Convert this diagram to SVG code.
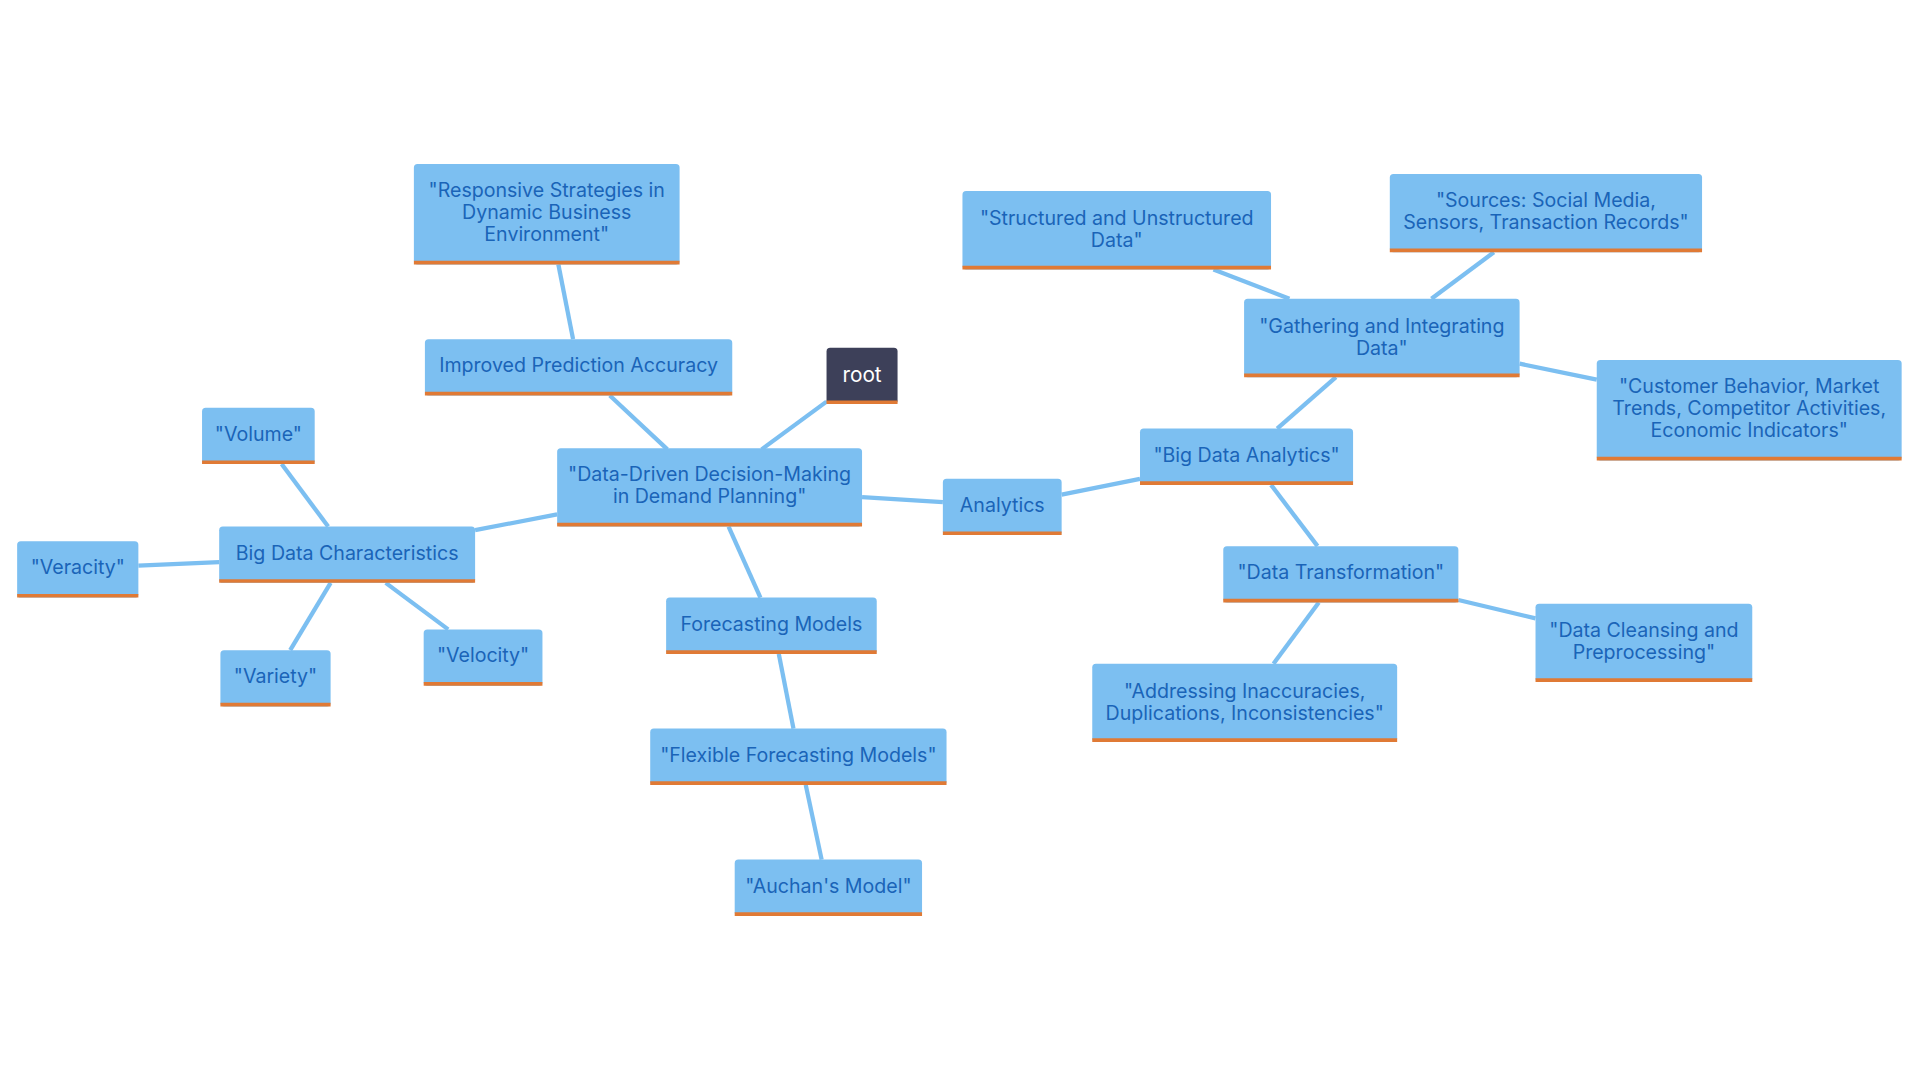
<svg xmlns="http://www.w3.org/2000/svg" width="1920" height="1080" viewBox="0 0 1920 1080">
<style>
.n{fill:#7cbff1}
.b{stroke:#e07a35;stroke-width:3}
.t{font-family:Inter,"Open Sans",sans-serif;font-size:16px;fill:#1a64b8;text-anchor:middle}
.c line{stroke:#7cbff1;stroke-width:3.5}
</style>
<rect width="1920" height="1080" fill="#fff"/>
<g transform="scale(1.2245)">
<g class="c">
<line x1="622" y1="367" x2="675" y2="328"/>
<line x1="545" y1="367" x2="498" y2="323"/>
<line x1="468" y1="277" x2="456" y2="216"/>
<line x1="455" y1="420" x2="388" y2="433"/>
<line x1="268" y1="430" x2="230" y2="379"/>
<line x1="179" y1="459" x2="113" y2="462"/>
<line x1="270" y1="476" x2="237" y2="531"/>
<line x1="315" y1="476" x2="366" y2="514"/>
<line x1="595" y1="430" x2="621" y2="488"/>
<line x1="636" y1="534" x2="648" y2="595"/>
<line x1="658" y1="641" x2="671" y2="702"/>
<line x1="704" y1="406" x2="770" y2="410"/>
<line x1="867" y1="404" x2="931" y2="391"/>
<line x1="1043" y1="350" x2="1091" y2="308"/>
<line x1="1053" y1="244" x2="991" y2="220"/>
<line x1="1169" y1="244" x2="1220" y2="206"/>
<line x1="1241" y1="297" x2="1304" y2="310"/>
<line x1="1038" y1="396" x2="1076" y2="446"/>
<line x1="1077" y1="492" x2="1040" y2="542"/>
<line x1="1191" y1="490" x2="1254" y2="505"/>
</g>
<g id="root"><rect x="675" y="284" width="58" height="46" rx="3" fill="#3d4059"/><line class="b" x1="675" y1="328.5" x2="733" y2="328.5"/><text class="t" x="704" y="312" style="fill:#fff;font-size:17px">root</text></g>
<g id="center"><rect class="n" x="455" y="366" width="249" height="64" rx="3"/><line class="b" x1="455" y1="428.5" x2="704" y2="428.5"/><text class="t" x="579.5" y="393">"Data-Driven Decision-Making</text><text class="t" x="579.5" y="411">in Demand Planning"</text></g>
<g id="ipa"><rect class="n" x="347" y="277" width="251" height="46" rx="3"/><line class="b" x1="347" y1="321.5" x2="598" y2="321.5"/><text class="t" x="472.5" y="304">Improved Prediction Accuracy</text></g>
<g id="resp"><rect class="n" x="338" y="134" width="217" height="82" rx="3"/><line class="b" x1="338" y1="214.5" x2="555" y2="214.5"/><text class="t" x="446.5" y="161">"Responsive Strategies in</text><text class="t" x="446.5" y="179">Dynamic Business</text><text class="t" x="446.5" y="197">Environment"</text></g>
<g id="bdc"><rect class="n" x="179" y="430" width="209" height="46" rx="3"/><line class="b" x1="179" y1="474.5" x2="388" y2="474.5"/><text class="t" x="283.5" y="457">Big Data Characteristics</text></g>
<g id="volume"><rect class="n" x="165" y="333" width="92" height="46" rx="3"/><line class="b" x1="165" y1="377.5" x2="257" y2="377.5"/><text class="t" x="211" y="360">"Volume"</text></g>
<g id="veracity"><rect class="n" x="14" y="442" width="99" height="46" rx="3"/><line class="b" x1="14" y1="486.5" x2="113" y2="486.5"/><text class="t" x="63.5" y="469">"Veracity"</text></g>
<g id="variety"><rect class="n" x="180" y="531" width="90" height="46" rx="3"/><line class="b" x1="180" y1="575.5" x2="270" y2="575.5"/><text class="t" x="225" y="558">"Variety"</text></g>
<g id="velocity"><rect class="n" x="346" y="514" width="97" height="46" rx="3"/><line class="b" x1="346" y1="558.5" x2="443" y2="558.5"/><text class="t" x="394.5" y="541">"Velocity"</text></g>
<g id="fm"><rect class="n" x="544" y="488" width="172" height="46" rx="3"/><line class="b" x1="544" y1="532.5" x2="716" y2="532.5"/><text class="t" x="630" y="515">Forecasting Models</text></g>
<g id="ffm"><rect class="n" x="531" y="595" width="242" height="46" rx="3"/><line class="b" x1="531" y1="639.5" x2="773" y2="639.5"/><text class="t" x="652" y="622">"Flexible Forecasting Models"</text></g>
<g id="auchan"><rect class="n" x="600" y="702" width="153" height="46" rx="3"/><line class="b" x1="600" y1="746.5" x2="753" y2="746.5"/><text class="t" x="676.5" y="729">"Auchan's Model"</text></g>
<g id="analytics"><rect class="n" x="770" y="391" width="97" height="46" rx="3"/><line class="b" x1="770" y1="435.5" x2="867" y2="435.5"/><text class="t" x="818.5" y="418">Analytics</text></g>
<g id="bda"><rect class="n" x="931" y="350" width="174" height="46" rx="3"/><line class="b" x1="931" y1="394.5" x2="1105" y2="394.5"/><text class="t" x="1018" y="377">"Big Data Analytics"</text></g>
<g id="gather"><rect class="n" x="1016" y="244" width="225" height="64" rx="3"/><line class="b" x1="1016" y1="306.5" x2="1241" y2="306.5"/><text class="t" x="1128.5" y="272">"Gathering and Integrating</text><text class="t" x="1128.5" y="290">Data"</text></g>
<g id="struct"><rect class="n" x="786" y="156" width="252" height="64" rx="3"/><line class="b" x1="786" y1="218.5" x2="1038" y2="218.5"/><text class="t" x="912" y="184">"Structured and Unstructured</text><text class="t" x="912" y="202">Data"</text></g>
<g id="sources"><rect class="n" x="1135" y="142" width="255" height="64" rx="3"/><line class="b" x1="1135" y1="204.5" x2="1390" y2="204.5"/><text class="t" x="1262.5" y="169">"Sources: Social Media,</text><text class="t" x="1262.5" y="187">Sensors, Transaction Records"</text></g>
<g id="customer"><rect class="n" x="1304" y="294" width="249" height="82" rx="3"/><line class="b" x1="1304" y1="374.5" x2="1553" y2="374.5"/><text class="t" x="1428.5" y="321">"Customer Behavior, Market</text><text class="t" x="1428.5" y="339">Trends, Competitor Activities,</text><text class="t" x="1428.5" y="357">Economic Indicators"</text></g>
<g id="dt"><rect class="n" x="999" y="446" width="192" height="46" rx="3"/><line class="b" x1="999" y1="490.5" x2="1191" y2="490.5"/><text class="t" x="1095" y="473">"Data Transformation"</text></g>
<g id="addr"><rect class="n" x="892" y="542" width="249" height="64" rx="3"/><line class="b" x1="892" y1="604.5" x2="1141" y2="604.5"/><text class="t" x="1016.5" y="570">"Addressing Inaccuracies,</text><text class="t" x="1016.5" y="588">Duplications, Inconsistencies"</text></g>
<g id="clean"><rect class="n" x="1254" y="493" width="177" height="64" rx="3"/><line class="b" x1="1254" y1="555.5" x2="1431" y2="555.5"/><text class="t" x="1342.5" y="520">"Data Cleansing and</text><text class="t" x="1342.5" y="538">Preprocessing"</text></g>
</g>
</svg>
